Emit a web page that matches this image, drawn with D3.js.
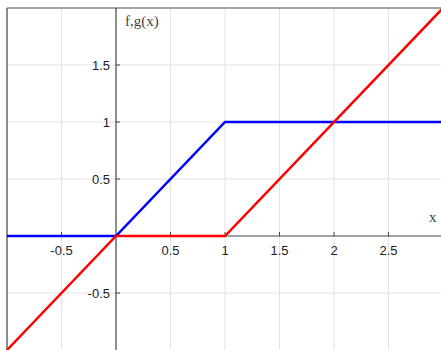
<!DOCTYPE html>
<html><head><meta charset="utf-8">
<script src="https://cdn.jsdelivr.net/npm/d3@7"></script>
<style>body{margin:0;background:#fff}svg{display:block}</style>
</head><body>
<script>
const fX = [-1, 0, 1, 3];
const fY = [0, 0, 1, 1];
const gX = [-1, 0, 1, 3];
const gY = [-1, 0, 0, 2];
const xTicks = [-0.5, 0.5, 1, 1.5, 2, 2.5];
const yTicks = [-0.5, 0.5, 1, 1.5];
const xGrid = [-0.5, 0.5, 1, 1.5, 2, 2.5];
const yGrid = [-0.5, 0.5, 1, 1.5];

const W = 441, H = 350;
const svg = d3.select("body").append("svg").attr("width", W).attr("height", H);
const x = d3.scaleLinear().domain([-1, 3]).range([7, 443]);
const y = d3.scaleLinear().domain([-1, 2]).range([350, 8]);

// grid
svg.append("g").selectAll("line").data(xGrid).join("line")
  .attr("x1", d => x(d)).attr("x2", d => x(d)).attr("y1", y(2)).attr("y2", H)
  .attr("stroke", "#e3e3e3").attr("stroke-width", 1);
svg.append("g").selectAll("line").data(yGrid).join("line")
  .attr("y1", d => y(d)).attr("y2", d => y(d)).attr("x1", x(-1)).attr("x2", W)
  .attr("stroke", "#e3e3e3").attr("stroke-width", 1);

// frame
svg.append("line").attr("x1", x(-1)).attr("x2", W).attr("y1", y(2)).attr("y2", y(2))
  .attr("stroke", "#888").attr("stroke-width", 1.5);
svg.append("line").attr("x1", x(-1)).attr("x2", x(-1)).attr("y1", y(2)).attr("y2", H)
  .attr("stroke", "#666").attr("stroke-width", 1.5);

// axes lines
svg.append("line").attr("x1", x(-1)).attr("x2", W).attr("y1", y(0)).attr("y2", y(0))
  .attr("stroke", "#444").attr("stroke-width", 1.2);
svg.append("line").attr("x1", x(0)).attr("x2", x(0)).attr("y1", y(2)).attr("y2", H)
  .attr("stroke", "#444").attr("stroke-width", 1.2);

// ticks
svg.append("g").selectAll("line").data(xTicks).join("line")
  .attr("x1", d => x(d)).attr("x2", d => x(d)).attr("y1", y(0) - 4).attr("y2", y(0))
  .attr("stroke", "#444");
svg.append("g").selectAll("line").data(yTicks).join("line")
  .attr("y1", d => y(d)).attr("y2", d => y(d)).attr("x1", x(0)).attr("x2", x(0) + 4)
  .attr("stroke", "#444");

const fmt = d => String(d);
svg.append("g").selectAll("text").data(xTicks).join("text")
  .attr("x", d => x(d)).attr("y", y(0) + 19).attr("text-anchor", "middle")
  .attr("font-family", "Liberation Sans, Arial, sans-serif").attr("font-size", 13)
  .attr("fill", "#222").text(fmt);
svg.append("g").selectAll("text").data(yTicks).join("text")
  .attr("x", x(0) - 6).attr("y", d => y(d) + 4.5).attr("text-anchor", "end")
  .attr("font-family", "Liberation Sans, Arial, sans-serif").attr("font-size", 13)
  .attr("fill", "#222").text(fmt);

// axis labels
svg.append("text").attr("x", x(0) + 9).attr("y", 26)
  .attr("font-family", "Liberation Serif, 'Times New Roman', serif").attr("font-size", 15)
  .attr("fill", "#444").text("f,g(x)");
svg.append("text").attr("x", 429).attr("y", 222)
  .attr("font-family", "Liberation Serif, 'Times New Roman', serif").attr("font-size", 15)
  .attr("fill", "#444").text("x");

const line = d3.line().x(d => x(d[0])).y(d => y(d[1]));
svg.append("path").datum(d3.zip(fX, fY)).attr("d", line)
  .attr("fill", "none").attr("stroke", "#0000ff").attr("stroke-width", 2.5);
svg.append("path").datum(d3.zip(gX, gY)).attr("d", line)
  .attr("fill", "none").attr("stroke", "#ff0000").attr("stroke-width", 2.5);
</script>
</body></html>
